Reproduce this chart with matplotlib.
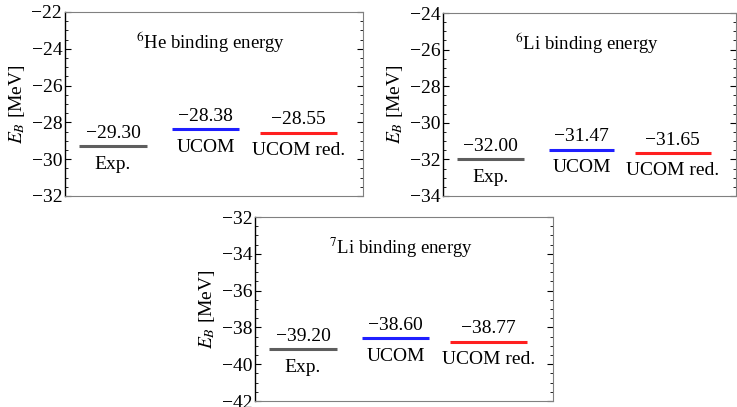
import matplotlib.pyplot as plt
from matplotlib.ticker import MultipleLocator

plt.rcParams["font.family"] = ["Liberation Serif", "DejaVu Serif"]
plt.rcParams["mathtext.fontset"] = "stix"

methods = ["Exp.", "UCOM", "UCOM red."]
colors = ["#5e5e5e", "#1f1fff", "#ff1f1f"]

nuclei = ["$^{6}$He", "$^{6}$Li", "$^{7}$Li"]
he6_energy = [-29.30, -28.38, -28.55]
li6_energy = [-32.00, -31.47, -31.65]
li7_energy = [-39.20, -38.60, -38.77]
energies = [he6_energy, li6_energy, li7_energy]
y_ranges = [(-32, -22), (-34, -24), (-42, -32)]

fig = plt.figure(figsize=(7.37, 4.07), dpi=100)

# axes boxes in pixels: left, bottom (from top), width, height
W, H = 737, 407
boxes = [(65, 196, 298, 184), (443, 196, 293, 183), (255, 401, 298, 184)]

half_w = [0.365, 0.36, 0.415]
fs = 14

for nuc, vals, (ylo, yhi), (l, b, w, h) in zip(nuclei, energies, y_ranges, boxes):
    ax = fig.add_axes([l / W, (H - b) / H, w / W, h / H])
    ax.set_xlim(-0.517, 2.693)
    ax.set_ylim(ylo, yhi)

    for i, (v, name, c) in enumerate(zip(vals, methods, colors)):
        ax.hlines(v, i - half_w[i], i + half_w[i], color=c, lw=2.2)
        ax.annotate(f"{v:.2f}".replace("-", "\u2212"), (i, v),
                    xytext=(0, 6), textcoords="offset points",
                    ha="center", va="baseline", fontsize=fs)
        ax.annotate(name, (i, v), xytext=(0, -16), textcoords="offset points",
                    ha="center", va="baseline", fontsize=fs)

    ax.text(0.49, 0.835, nuc + " binding energy", transform=ax.transAxes,
            ha="center", va="center", fontsize=13.5)

    ax.set_ylabel("$E_B$ [MeV]", fontsize=fs, labelpad=3)
    ax.yaxis.set_major_locator(MultipleLocator(2))
    ax.yaxis.set_minor_locator(MultipleLocator(0.5))
    ax.set_xticks([])
    ax.tick_params(axis="y", which="both", direction="in", right=True,
                   labelsize=fs, pad=2)
    ax.tick_params(axis="y", which="major", length=4)
    ax.tick_params(axis="y", which="minor", length=2)
    for s in ["top", "right", "bottom"]:
        ax.spines[s].set_color("#808080")
    ax.spines["left"].set_color("black")
    ax.spines["left"].set_linewidth(1.0)

fig.savefig("out.png", dpi=100)
